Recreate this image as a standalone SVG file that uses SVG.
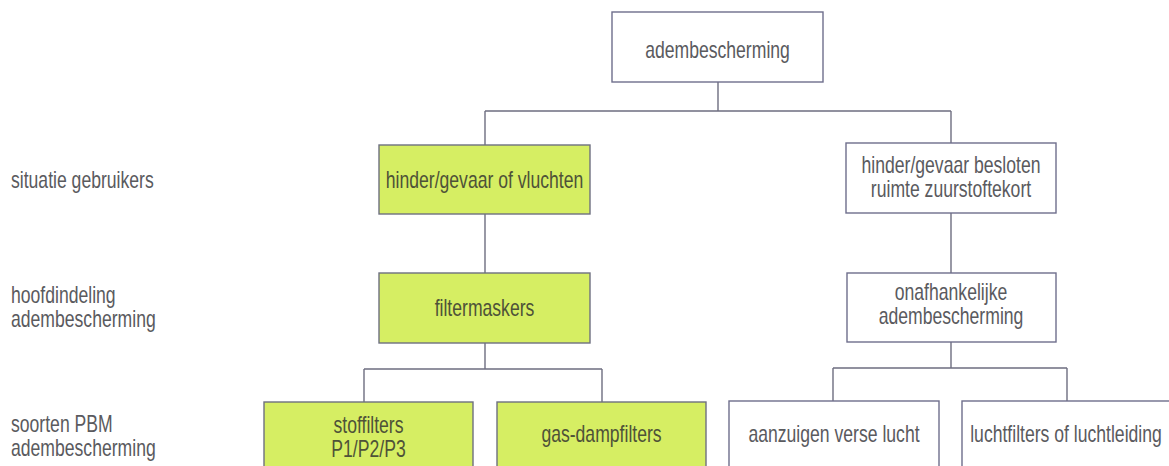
<svg xmlns="http://www.w3.org/2000/svg" width="1169" height="466" viewBox="0 0 1169 466">
<style>
.box{fill:#ffffff;stroke:#6e6e8c;stroke-width:1.4}
.green{fill:#d6ee63;stroke:#6e7080;stroke-width:1.4}
.t{font-family:"Liberation Sans",Arial,sans-serif;font-size:23px;fill:#5a5a5e;text-anchor:middle}
.tg{fill:#4e5238}
.lbl{font-family:"Liberation Sans",Arial,sans-serif;font-size:23px;fill:#5a5a5e}
.c{fill:none;stroke:#6e6e80;stroke-width:1.4}
</style>
<rect width="1169" height="466" fill="#ffffff"/>
<g id="connectors">
<path class="c" d="M718 82V111M485 111H951M485 111V145M951 111V143"/>
<path class="c" d="M485 214V273M951 213V273"/>
<path class="c" d="M485 343V369M364 369H602M364 369V402M602 369V402"/>
<path class="c" d="M951 342V368M833 368H1067M833 368V401M1067 368V401"/>
</g>
<g id="labels">
<text class="lbl" transform="translate(11 188) scale(0.765 1)">situatie gebruikers</text>
<text class="lbl" transform="translate(11 303) scale(0.765 1)">hoofdindeling</text>
<text class="lbl" transform="translate(11 327) scale(0.765 1)">adembescherming</text>
<text class="lbl" transform="translate(11 432) scale(0.765 1)">soorten PBM</text>
<text class="lbl" transform="translate(11 456) scale(0.765 1)">adembescherming</text>
</g>
<g id="node-adembescherming">
<rect class="box" x="612" y="12" width="211" height="70"/>
<text class="t" transform="translate(717.5 58) scale(0.765 1)">adembescherming</text>
</g>
<g id="node-vluchten">
<rect class="green" x="379" y="145" width="211" height="69"/>
<text class="t tg" transform="translate(484.5 188) scale(0.765 1)">hinder/gevaar of vluchten</text>
</g>
<g id="node-besloten">
<rect class="box" x="846" y="143" width="210" height="70"/>
<text class="t" transform="translate(951 173) scale(0.765 1)">hinder/gevaar besloten</text>
<text class="t" transform="translate(951 197) scale(0.765 1)">ruimte zuurstoftekort</text>
</g>
<g id="node-filtermaskers">
<rect class="green" x="379" y="273" width="211" height="70"/>
<text class="t tg" transform="translate(484.5 316) scale(0.765 1)">filtermaskers</text>
</g>
<g id="node-onafhankelijke">
<rect class="box" x="847" y="273" width="209" height="69"/>
<text class="t" transform="translate(951 300) scale(0.765 1)">onafhankelijke</text>
<text class="t" transform="translate(951 324) scale(0.765 1)">adembescherming</text>
</g>
<g id="node-stoffilters">
<rect class="green" x="264" y="402" width="209" height="80"/>
<text class="t tg" transform="translate(368.5 433) scale(0.765 1)">stoffilters</text>
<text class="t tg" transform="translate(368.5 457) scale(0.765 1)">P1/P2/P3</text>
</g>
<g id="node-gasdamp">
<rect class="green" x="497" y="402" width="209" height="80"/>
<text class="t tg" transform="translate(601.5 442) scale(0.765 1)">gas-dampfilters</text>
</g>
<g id="node-aanzuigen">
<rect class="box" x="729" y="401" width="210" height="80"/>
<text class="t" transform="translate(834 442) scale(0.765 1)">aanzuigen verse lucht</text>
</g>
<g id="node-luchtfilters">
<rect class="box" x="962" y="401" width="212" height="80"/>
<text class="t" transform="translate(1066 442) scale(0.765 1)">luchtfilters of luchtleiding</text>
</g>
</svg>
